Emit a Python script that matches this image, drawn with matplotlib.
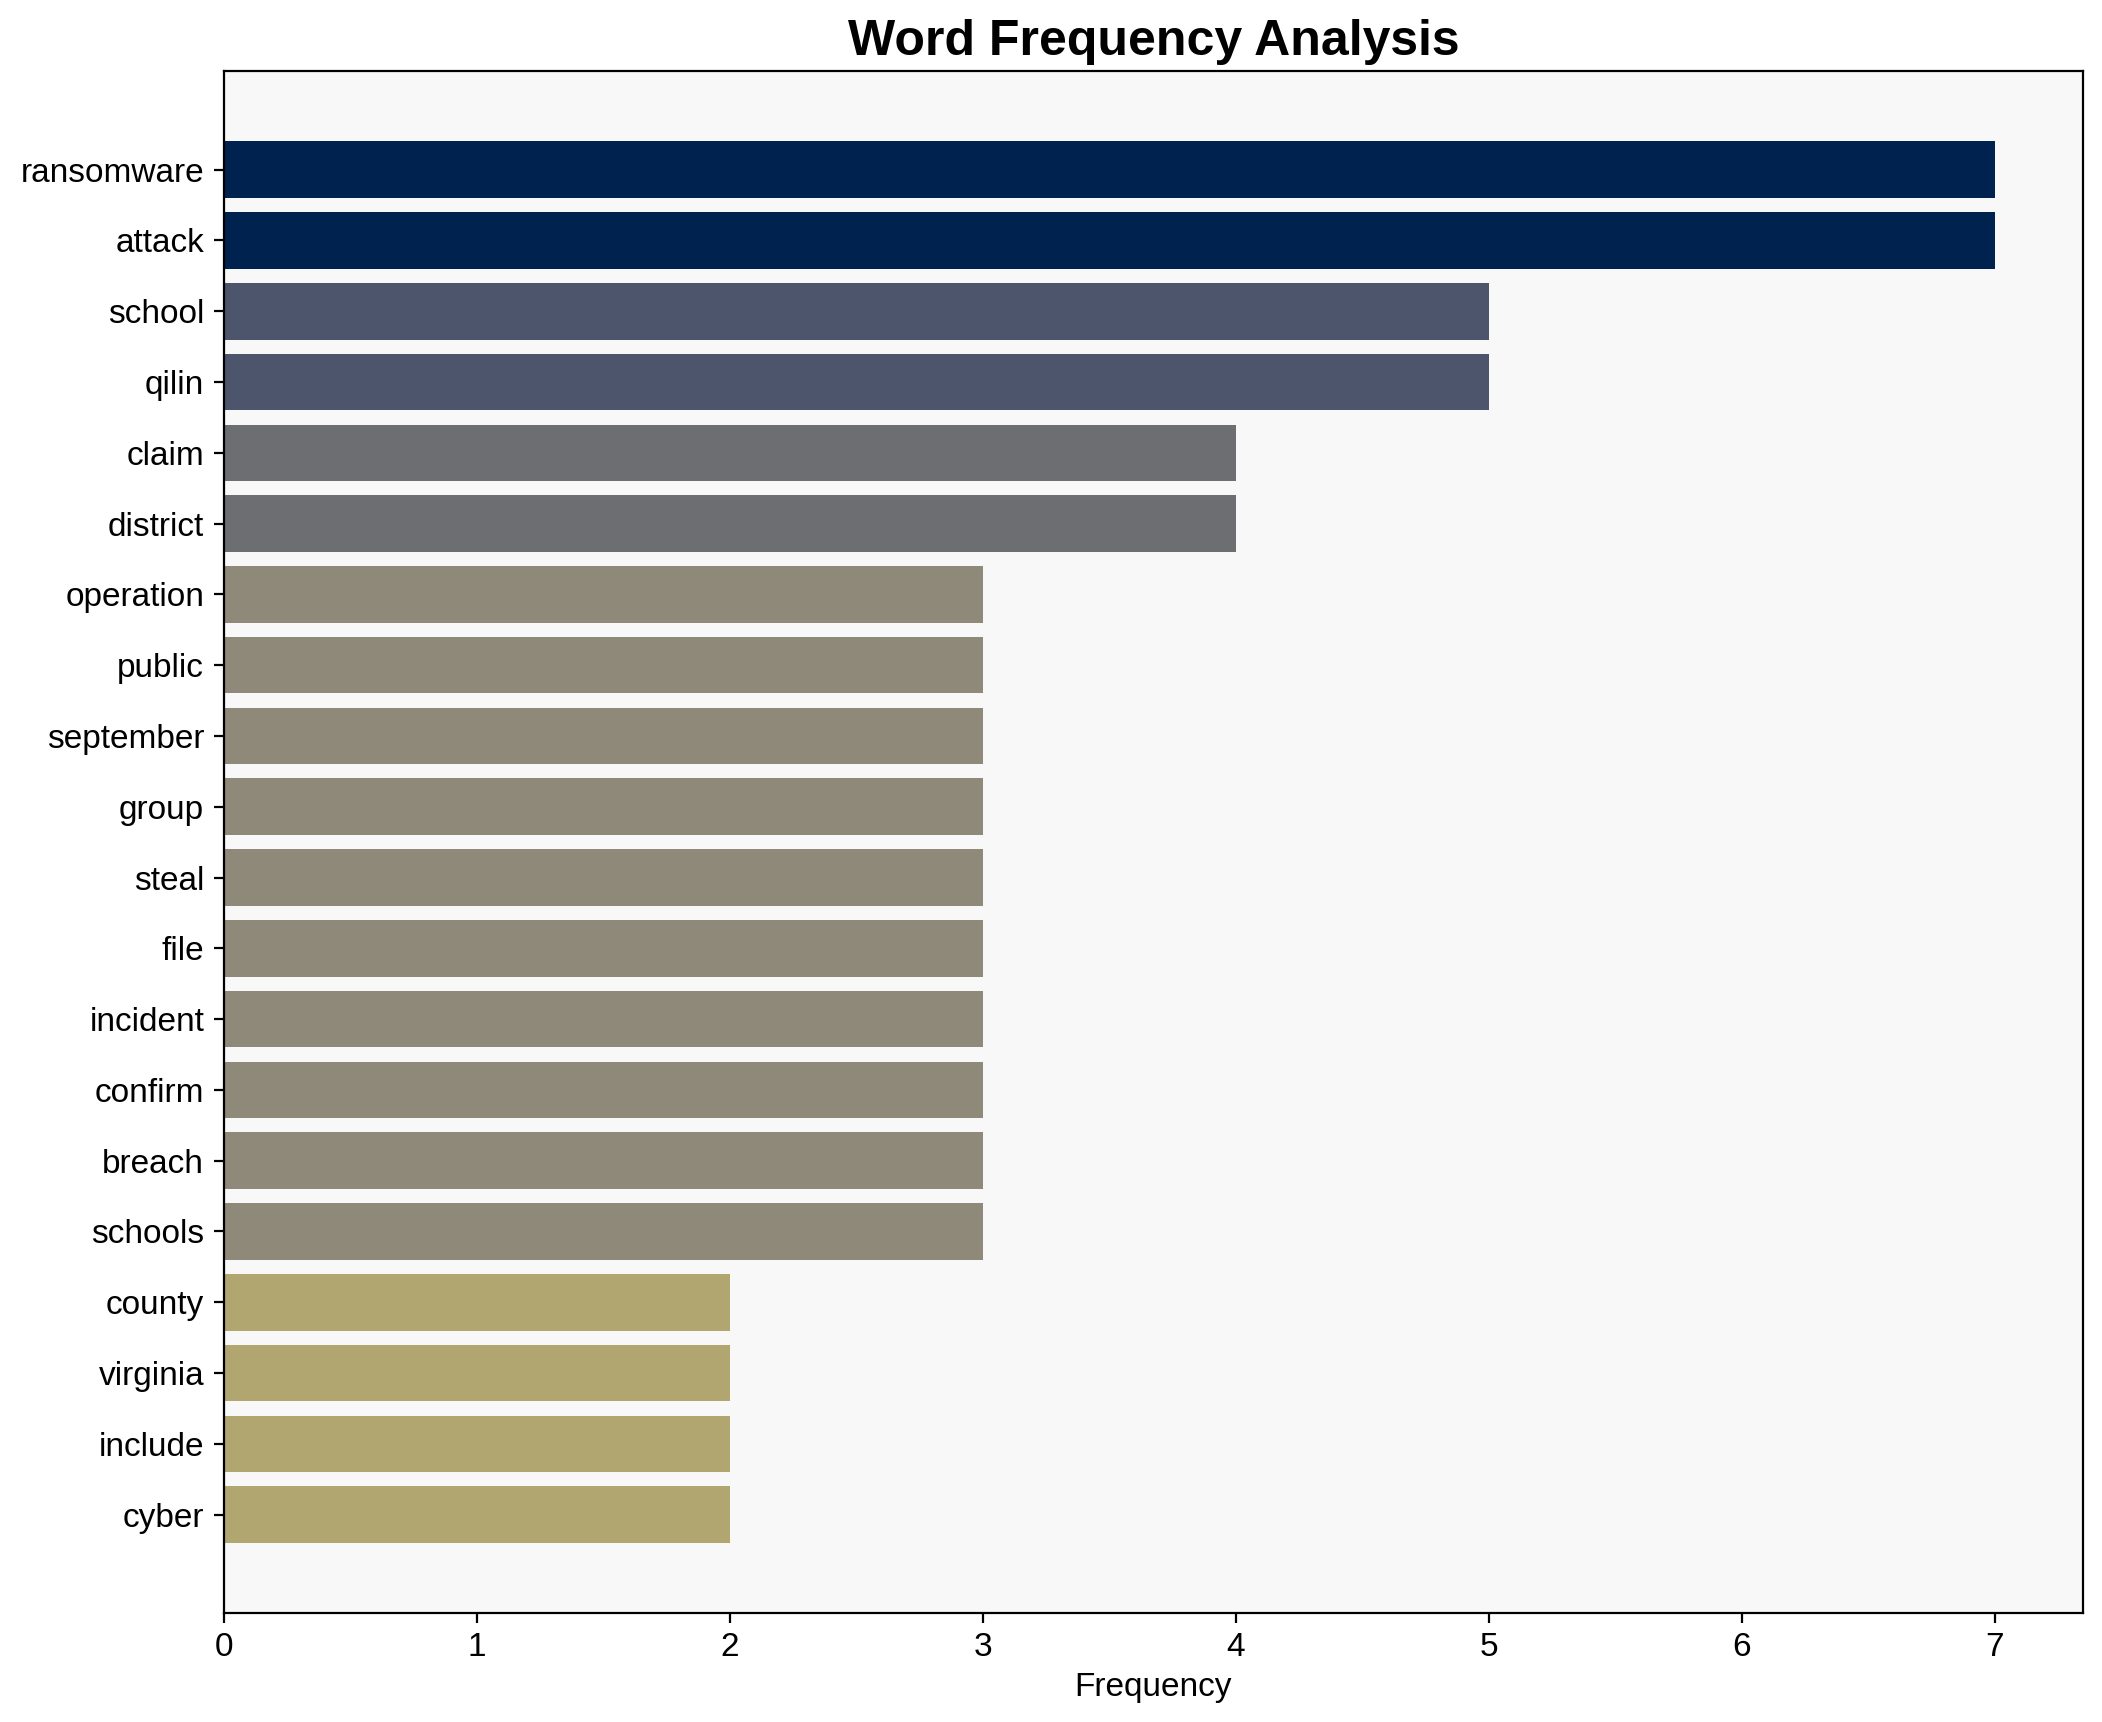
import matplotlib
matplotlib.use("Agg")
import matplotlib.pyplot as plt
import numpy as np

words = ["ransomware", "attack", "school", "qilin", "claim", "district",
         "operation", "public", "september", "group", "steal", "file",
         "incident", "confirm", "breach", "schools", "county", "virginia",
         "include", "cyber"]
counts = [7, 7, 5, 5, 4, 4, 3, 3, 3, 3, 3, 3, 3, 3, 3, 3, 2, 2, 2, 2]

plt.rcParams['font.family'] = ['Liberation Sans', 'DejaVu Sans']

fig = plt.figure(figsize=(10.51, 8.61), dpi=200)
ax = fig.add_axes([0.1064, 0.0633, 0.8846, 0.8953])
ax.set_facecolor('#f8f8f8')

vals = np.array(counts)
colors = plt.cm.cividis(1 - vals / vals.max())
ypos = np.arange(len(words))
ax.barh(ypos, vals, height=0.8, color=colors)
ax.set_yticks(ypos)
ax.set_yticklabels(words)
ax.invert_yaxis()

ax.tick_params(axis='both', labelsize=12)
ax.set_xlabel('Frequency', fontsize=12, labelpad=3)
ax.set_title('Word Frequency Analysis', fontsize=18, fontweight='bold', pad=6)

fig.savefig('out.png', dpi=200)
